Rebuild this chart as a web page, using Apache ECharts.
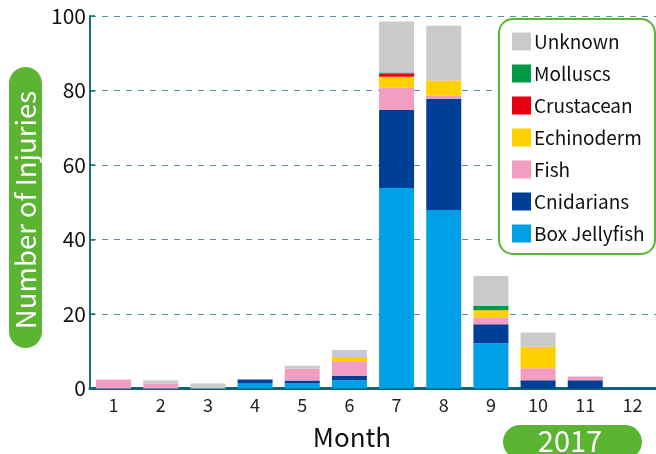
<!DOCTYPE html>
<html>
<head>
<meta charset="utf-8">
<script src="https://cdn.jsdelivr.net/npm/echarts@6/dist/echarts.min.js"></script>
<style>
html,body{margin:0;padding:0;background:#fff;}
#c{width:656px;height:454px;}
</style>
</head>
<body>
<div id="c"></div>
<script>
const months = ['1','2','3','4','5','6','7','8','9','10','11','12'];
const boxJellyfish = [0, 0, 0, 1.3, 1.3, 2.2, 53.8, 47.9, 12.1, 0, 0, 0];
const cnidarians   = [0, 0, 0, 1.1, 0.8, 1.1, 21.0, 29.9, 5.1, 2.2, 2.2, 0];
const fish         = [2.4, 1.3, 0, 0, 3.2, 4.0, 5.9, 0.8, 1.9, 3.2, 1.0, 0];
const echinoderm   = [0, 0, 0, 0, 0, 1.1, 3.0, 4.1, 1.9, 5.8, 0, 0];
const crustacean   = [0, 0, 0, 0, 0, 0, 0.8, 0, 0, 0, 0, 0];
const molluscs     = [0, 0, 0, 0, 0, 0, 0.3, 0, 1.2, 0, 0, 0];
const unknown      = [0, 0.8, 1.3, 0, 0.8, 1.9, 13.7, 14.7, 8.0, 3.8, 0, 0];
const yTicks = [0, 20, 40, 60, 80, 100];

const FONT = '"Noto Sans CJK JP", "Noto Sans", sans-serif';
const GREEN = '#5bb432';

const seriesDefs = [
  ['Box Jellyfish', boxJellyfish, '#00a0e6'],
  ['Cnidarians', cnidarians, '#003f98'],
  ['Fish', fish, '#f19ec2'],
  ['Echinoderm', echinoderm, '#ffd100'],
  ['Crustacean', crustacean, '#e60012'],
  ['Molluscs', molluscs, '#009944'],
  ['Unknown', unknown, '#c9caca']
];

const chart = echarts.init(document.getElementById('c'));
chart.setOption({
  animation: false,
  textStyle: { fontFamily: FONT },
  grid: { left: 90, right: 0, top: 16, bottom: 65.6, containLabel: false },
  xAxis: {
    type: 'category',
    data: months,
    axisLine: { lineStyle: { color: '#17607a', width: 3 } },
    axisTick: { inside: true, length: 9, alignWithLabel: false, lineStyle: { color: '#8fb3bd', width: 1.5 } },
    axisLabel: { color: '#222', fontSize: 18, margin: 8, fontFamily: FONT }
  },
  yAxis: {
    type: 'value',
    min: yTicks[0],
    max: yTicks[yTicks.length - 1],
    interval: 20,
    axisLine: { show: true, lineStyle: { color: '#1a6b80', width: 2 } },
    axisTick: { show: true, inside: true, length: 5, lineStyle: { color: '#1a6b80', width: 1.5 } },
    axisLabel: { color: '#111', fontSize: 21, margin: 4, fontFamily: FONT },
    splitLine: { show: true, lineStyle: { color: '#4d8fa0', width: 1, type: [6, 6] } }
  },
  legend: {
    orient: 'vertical',
    left: 498,
    top: 19,
    padding: [13, 4, 10, 14],
    itemWidth: 19,
    itemHeight: 18,
    itemGap: 13,
    icon: 'rect',
    z: 10,
    data: seriesDefs.map(d => d[0]).reverse(),
    textStyle: { color: '#111', fontSize: 19, lineHeight: 17, padding: [0, 0, 0, -2], fontFamily: FONT }
  },
  graphic: [
    { type: 'rect', z: 5, shape: { x: 499, y: 19, width: 156, height: 235, r: 14 },
      style: { fill: '#fff', stroke: GREEN, lineWidth: 2 } },
    { type: 'rect', z: 5, shape: { x: 9, y: 67, width: 33, height: 281, r: 16.5 },
      style: { fill: GREEN } },
    { type: 'text', z: 6, x: 26, y: 210, rotation: Math.PI / 2,
      style: { text: 'Number of Injuries', fill: '#fff', font: '27.5px ' + FONT, textAlign: 'center', textVerticalAlign: 'middle' } },
    { type: 'text', z: 6, x: 352, y: 437,
      style: { text: 'Month', fill: '#111', font: '26px ' + FONT, textAlign: 'center', textVerticalAlign: 'middle' } },
    { type: 'rect', z: 5, shape: { x: 503, y: 425, width: 139, height: 34, r: 17 },
      style: { fill: GREEN } },
    { type: 'text', z: 6, x: 570, y: 441,
      style: { text: '2017', fill: '#fff', font: '29px ' + FONT, textAlign: 'center', textVerticalAlign: 'middle' } }
  ],
  series: seriesDefs.map(([name, data, color]) => ({
    name: name,
    type: 'bar',
    stack: 'total',
    barWidth: 35,
    data: data,
    itemStyle: { color: color },
    emphasis: { disabled: true }
  }))
});
</script>
</body>
</html>
